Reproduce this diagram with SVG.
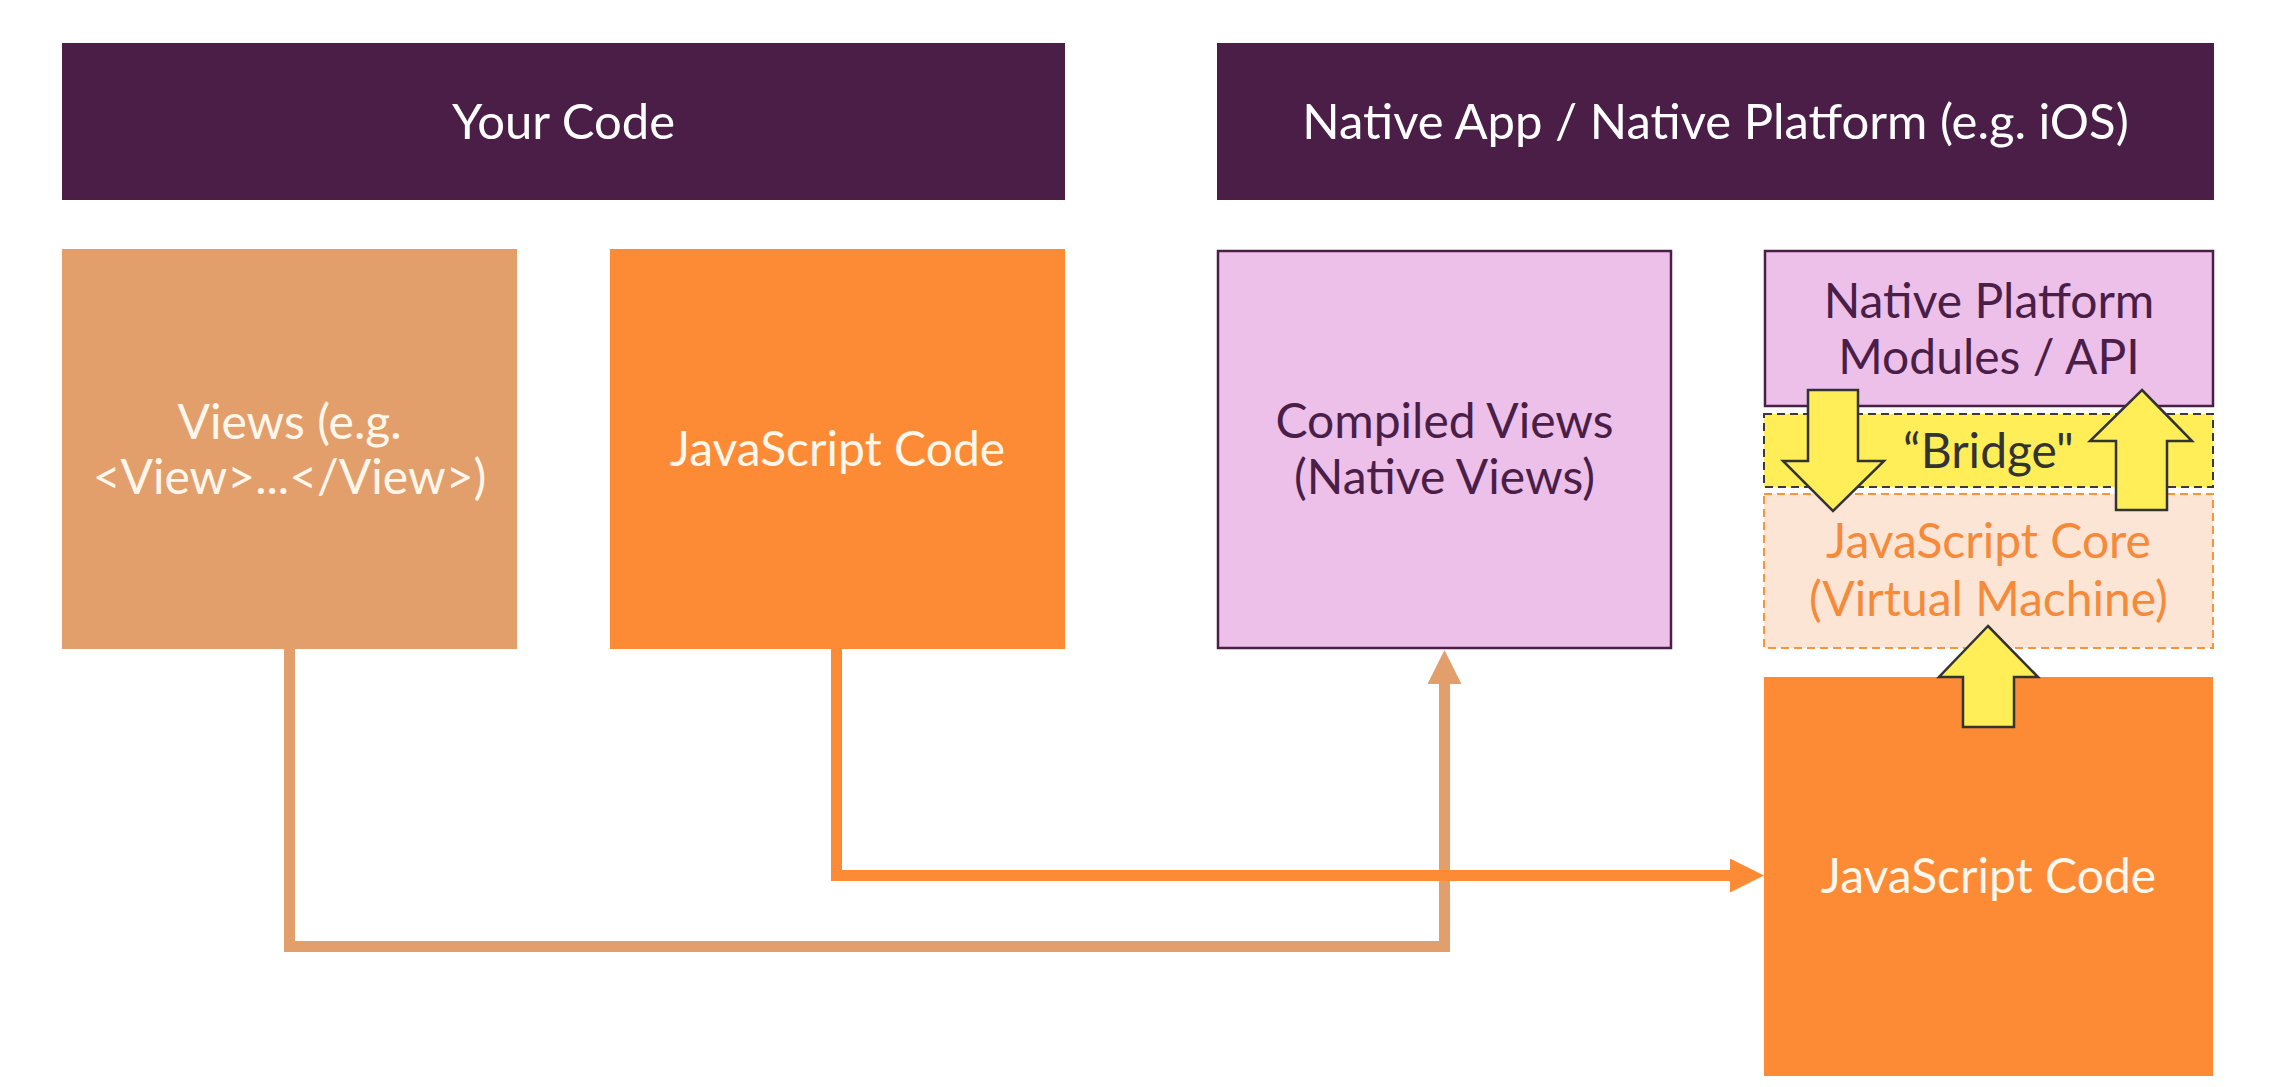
<svg xmlns="http://www.w3.org/2000/svg" width="2270" height="1087" viewBox="0 0 2270 1087">
<style>
.t{font-family:Lato,"Open Sans","Liberation Sans",sans-serif;font-size:48px;text-anchor:middle}
.hdr{fill:#4A1E47}
.ht{fill:#FFFFFF;font-size:49px}
.cream{fill:#FFF7EC}
.purp{fill:#4A1E47}
.ya{fill:#FFEE58;stroke:#333333;stroke-width:2.5;stroke-linejoin:miter}
.line{fill:none;stroke-width:11}
</style>
<defs>
<marker id="ahTan" markerWidth="34" markerHeight="34" refX="0" refY="17" orient="auto" markerUnits="userSpaceOnUse">
<path d="M0,0 L34,17 L0,34 Z" fill="#E39F6B"/>
</marker>
<marker id="ahOr" markerWidth="34" markerHeight="34" refX="0" refY="17" orient="auto" markerUnits="userSpaceOnUse">
<path d="M0,0 L34,17 L0,34 Z" fill="#FD8B35"/>
</marker>
</defs>
<rect width="2270" height="1087" fill="#FFFFFF"/>

<g id="header-your-code">
<rect class="hdr" x="62" y="43" width="1003" height="157"/>
<text class="t ht" x="563.5" y="139">Your Code</text>
</g>
<g id="header-native">
<rect class="hdr" x="1217" y="43" width="997" height="157"/>
<text class="t ht" x="1715.5" y="139">Native App / Native Platform (e.g. iOS)</text>
</g>

<g id="connectors">
<path class="line" stroke="#E39F6B" d="M289.5,649 V946.5 H1444.5 V684" marker-end="url(#ahTan)"/>
<path class="line" stroke="#FD8B35" d="M836.5,649 V875.5 H1730" marker-end="url(#ahOr)"/>
</g>

<g id="views">
<rect x="62" y="249" width="455" height="400" fill="#E39F6B"/>
<text class="t cream" x="289.5" y="439">Views (e.g.</text>
<text class="t cream" x="289.5" y="494">&lt;View&gt;...&lt;/View&gt;)</text>
</g>
<g id="js-code-left">
<rect x="610" y="249" width="455" height="400" fill="#FD8B35"/>
<text class="t cream" x="837.5" y="466">JavaScript Code</text>
</g>
<g id="compiled-views">
<rect x="1218" y="251" width="453" height="397" fill="#EDC0EA" stroke="#4A1E47" stroke-width="2.5"/>
<text class="t purp" x="1444.5" y="438">Compiled Views</text>
<text class="t purp" x="1444.5" y="494">(Native Views)</text>
</g>

<g id="js-core">
<rect x="1764" y="494" width="449" height="154" fill="#FDE5D6" stroke="#F7953F" stroke-width="2" stroke-dasharray="8,5"/>
<text class="t" fill="#F58A3A" x="1988.5" y="558">JavaScript Core</text>
<text class="t" fill="#F58A3A" x="1988.5" y="616">(Virtual Machine)</text>
</g>
<g id="bridge">
<rect x="1764" y="414" width="449" height="73" fill="#FFEE58" stroke="#3A3A3A" stroke-width="2" stroke-dasharray="8,5"/>
<text class="t" fill="#333333" x="1988.5" y="468">“Bridge"</text>
</g>
<g id="native-modules">
<rect x="1765" y="251" width="448" height="155" fill="#EDC0EA" stroke="#4A1E47" stroke-width="2.5"/>
<text class="t purp" x="1989" y="318">Native Platform</text>
<text class="t purp" x="1989" y="374">Modules / API</text>
</g>
<g id="js-code-right">
<rect x="1764" y="677" width="449" height="399" fill="#FD8B35"/>
<text class="t cream" x="1988.5" y="893">JavaScript Code</text>
</g>

<g id="bridge-arrows">
<polygon class="ya" points="1808,390 1858,390 1858,461 1884,461 1833,511 1783,461 1808,461"/>
<polygon class="ya" points="2142,390 2192,441 2167,441 2167,510 2116,510 2116,441 2090,441"/>
<polygon class="ya" points="1988,626 2038,677 2014,677 2014,727 1963,727 1963,677 1939,677"/>
</g>
</svg>
